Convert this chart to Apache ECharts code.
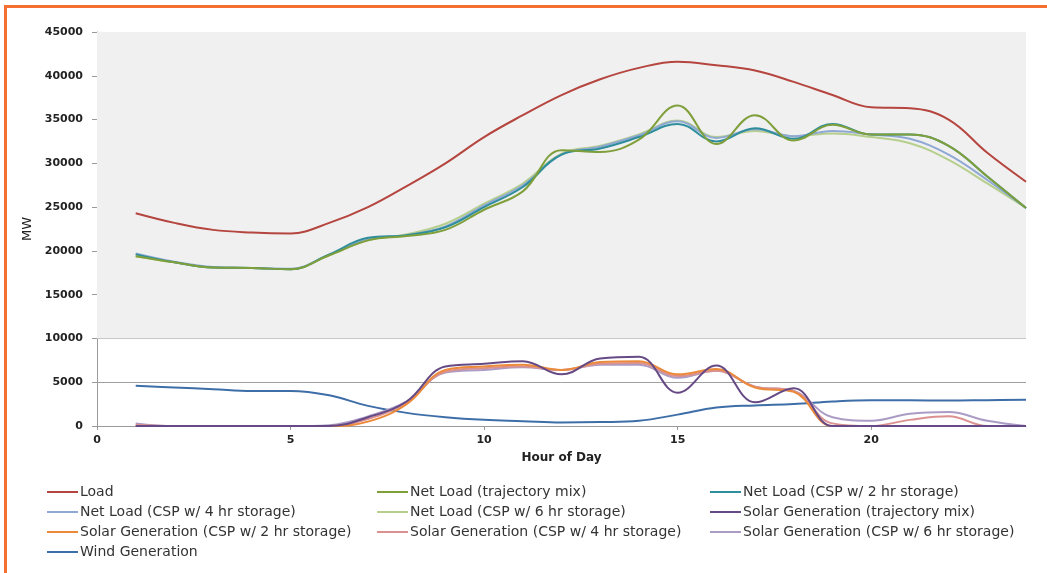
<!DOCTYPE html>
<html>
<head>
<meta charset="utf-8">
<script src="https://cdn.jsdelivr.net/npm/echarts@6/dist/echarts.min.js"></script>
<style>
  html, body { margin: 0; padding: 0; background: #fff; }
  #main_chart { width: 1047px; height: 573px; }
  #frame { position: absolute; left: 4px; top: 5px; width: 1100px; height: 600px;
           border-left: 3px solid #f36f32; border-top: 3px solid #f36f32; pointer-events: none; }
</style>
</head>
<body>
<div id="main_chart"></div>
<div id="frame"></div>
<script>
// hour of day
var hours = [1,2,3,4,5,6,7,8,9,10,11,12,13,14,15,16,17,18,19,20,21,22,23,24];

// MW values
var load       = [24300,23200,22400,22100,22000,23200,25000,27400,30000,33000,35500,37800,39600,40900,41600,41200,40600,39300,37800,36400,36300,35000,31200,27900];
var netTraj    = [19400,18700,18100,18050,17900,19500,21200,21700,22400,24700,26800,31500,31300,32700,36600,32200,35500,32600,34400,33300,33300,32000,28500,24900];
var net2hr     = [19600,18700,18100,18050,17900,19600,21500,21800,22700,25000,27300,31000,31700,33000,34500,32500,34000,32800,34500,33300,33300,32000,28500,24900];
var net4hr     = [19700,18750,18150,18050,17950,19550,21300,21800,22800,25200,27500,31000,31900,33200,34800,32900,33900,33100,33700,33300,32800,31000,28100,24900];
var net6hr     = [19400,18700,18100,18050,17900,19500,21200,21900,23100,25400,27700,31100,32000,33300,34900,33000,33700,33100,33400,33000,32300,30400,27700,24900];
var solarTraj  = [0,0,0,0,0,0,1000,2800,6800,7100,7400,5900,7700,7900,3800,6900,2700,4300,0,0,0,0,0,0];
var solar2hr   = [0,0,0,0,0,0,500,2500,6400,6800,7000,6400,7300,7400,5900,6500,4400,3900,0,0,0,0,0,0];
var solar4hr   = [150,0,0,0,0,0,800,2700,6200,6600,6800,6400,7100,7200,5700,6300,4500,4000,300,0,700,1100,0,0];
var solar6hr   = [300,0,0,0,0,100,1100,2800,6100,6400,6700,6400,7000,7000,5500,6300,4500,4000,1000,600,1400,1600,600,0];
var wind       = [4600,4400,4200,4000,4000,3500,2300,1500,1000,700,550,400,450,600,1300,2100,2350,2500,2800,2950,2950,2900,2950,3000];

var xTicks = [0,5,10,15,20];

var seriesDefs = [
  ['Load', load, '#b5453f'],
  ['Net Load (trajectory mix)', netTraj, '#7f9f3a'],
  ['Net Load (CSP w/ 2 hr storage)', net2hr, '#2f8e9c'],
  ['Net Load (CSP w/ 4 hr storage)', net4hr, '#8fa8d4'],
  ['Net Load (CSP w/ 6 hr storage)', net6hr, '#b6cf8c'],
  ['Solar Generation (trajectory mix)', solarTraj, '#654a85'],
  ['Solar Generation (CSP w/ 2 hr storage)', solar2hr, '#ec8a3b'],
  ['Solar Generation (CSP w/ 4 hr storage)', solar4hr, '#da9190'],
  ['Solar Generation (CSP w/ 6 hr storage)', solar6hr, '#ab9cc6'],
  ['Wind Generation', wind, '#3e6ea8']
];

function pairs(vals){
  var out = [];
  for(var i=0;i<hours.length;i++){ out.push([hours[i], vals[i]]); }
  return out;
}

var mySeries = [];
// light gray band behind the upper part of the plot
mySeries.push({
  type: 'line', data: [], z: -1, silent: true,
  markArea: { silent: true, itemStyle: { color: '#f0f0f0' }, data: [[{ yAxis: 10000 }, { yAxis: 45000 }]] }
});
// reversed draw order so Load sits on top like the original
for(var k=seriesDefs.length-1;k>=0;k--){
  var d = seriesDefs[k];
  mySeries.push({
    name: d[0], type: 'line', data: pairs(d[1]), smooth: 0.4,
    showSymbol: false, symbol: 'none',
    lineStyle: { width: 2, color: d[2] }, itemStyle: { color: d[2] }
  });
}

function makeLegend(left, names){
  return {
    orient: 'vertical', left: left, top: 485, itemGap: 6, padding: 0,
    icon: 'rect', itemWidth: 31, itemHeight: 2,
    textStyle: { fontFamily: 'DejaVu Sans', fontSize: 14, color: '#333', padding: [0,0,0,-3] },
    data: names
  };
}

var myChart = echarts.init(document.getElementById('main_chart'));
var option = {
  animation: false,
  grid: { left: 97, right: 21, top: 32, bottom: 147 },
  legend: [
    makeLegend(47, ['Load','Net Load (CSP w/ 4 hr storage)','Solar Generation (CSP w/ 2 hr storage)','Wind Generation']),
    makeLegend(377, ['Net Load (trajectory mix)','Net Load (CSP w/ 6 hr storage)','Solar Generation (CSP w/ 4 hr storage)']),
    makeLegend(710, ['Net Load (CSP w/ 2 hr storage)','Solar Generation (trajectory mix)','Solar Generation (CSP w/ 6 hr storage)'])
  ],
  xAxis: {
    type: 'value', min: 0, max: 24, interval: 5,
    name: 'Hour of Day', nameLocation: 'middle', nameGap: 26,
    nameTextStyle: { fontFamily: 'DejaVu Sans', fontWeight: 'bold', fontSize: 12, color: '#222' },
    axisLine: { show: true, lineStyle: { color: '#9a9a9a', width: 1 } },
    axisTick: { show: true, length: 4, lineStyle: { color: '#9a9a9a' }, customValues: xTicks },
    axisLabel: { margin: 9, fontFamily: 'DejaVu Sans', fontWeight: 'bold', fontSize: 11, color: '#222', customValues: xTicks },
    splitLine: { show: false }
  },
  yAxis: {
    type: 'value', min: 0, max: 45000, interval: 5000,
    name: 'MW', nameLocation: 'middle', nameGap: 54, nameRotate: 90,
    nameTextStyle: { fontFamily: 'DejaVu Sans', fontSize: 13, color: '#222' },
    axisLine: { show: true, lineStyle: { color: '#9a9a9a', width: 1 } },
    axisTick: { show: true, length: 5, lineStyle: { color: '#9a9a9a' } },
    axisLabel: { margin: 14, fontFamily: 'DejaVu Sans', fontWeight: 'bold', fontSize: 11, color: '#222',
                 formatter: function(v){ return String(v); } },
    splitLine: { show: true, lineStyle: { color: '#a0a0a0', width: 1 } }
  },
  series: mySeries
};
myChart.setOption(option);
</script>
</body>
</html>
